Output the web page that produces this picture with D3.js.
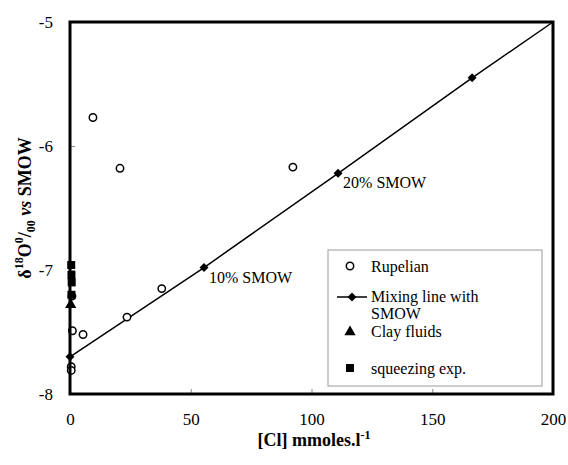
<!DOCTYPE html>
<html>
<head>
<meta charset="utf-8">
<script src="https://cdn.jsdelivr.net/npm/d3@7"></script>
<style>
  body { margin: 0; background: #fff; font-family: "Liberation Serif", "Times New Roman", serif; }
  .tick text { font-family: "Liberation Serif", serif; font-size: 17px; fill: #000; }
  .tick line { stroke: #888; }
</style>
</head>
<body>
<svg id="chart" width="568" height="465"></svg>
<script>
// values
var rupelian = [[9.5,-5.77],[20.7,-6.18],[92.3,-6.17],[38,-7.15],[23.6,-7.38],[5.4,-7.52],[1,-7.49],[0.8,-7.21],[0.5,-7.78],[0.5,-7.81]]
var mixing = [[0,-7.7],[55.5,-6.98],[111,-6.22],[166.5,-5.45],[200,-5]]
var clayFluids = [[0.3,-7.28]]
var squeezing = [[0.5,-6.96],[0.6,-7.04],[0.7,-7.1],[0.6,-7.2]]
var xTicks = [0,50,100,150,200]
var yTicks = [-8,-7,-6,-5]
var mixLabels = [[55.5,-6.98,"10% SMOW"],[111,-6.22,"20% SMOW"]]

var svg = d3.select("#chart")
var pLeft = 70, pRight = 553, pTop = 22, pBottom = 394

var x = d3.scaleLinear().domain([0,200]).range([pLeft,pRight])
var y = d3.scaleLinear().domain([-8,-5]).range([pBottom,pTop])

// axes, ticks pointing inward
var gx = svg.append("g").attr("transform","translate(0,"+pBottom+")")
  .call(d3.axisBottom(x).tickValues(xTicks).tickSize(-5).tickPadding(19).tickFormat(d3.format("d")))
gx.select(".domain").remove()
var gy = svg.append("g").attr("transform","translate("+pLeft+",0)")
  .call(d3.axisLeft(y).tickValues(yTicks).tickSize(-5).tickPadding(17).tickFormat(function(d){return String(d).replace("\u2212","-")}))
gy.select(".domain").remove()

// mixing line
svg.append("path").datum(mixing)
  .attr("fill","none").attr("stroke","#000").attr("stroke-width",1.5)
  .attr("d", d3.line().x(function(d){return x(d[0])}).y(function(d){return y(d[1])}))

var diamond = d3.symbol(d3.symbolSquare).size(40)
svg.selectAll(".mix").data(mixing.slice(0,4)).enter().append("path")
  .attr("transform", function(d){return "translate("+x(d[0])+","+y(d[1])+") rotate(45)"})
  .attr("d", diamond)
  .attr("fill","#000")

svg.selectAll(".mixlab").data(mixLabels).enter().append("text")
  .attr("x", function(d){return x(d[0])+5})
  .attr("y", function(d){return y(d[1])+15})
  .attr("font-size",16).text(function(d){return d[2]})

// rupelian circles
svg.selectAll(".rup").data(rupelian).enter().append("circle")
  .attr("cx", function(d){return x(d[0])}).attr("cy", function(d){return y(d[1])})
  .attr("r",3.7).attr("fill","#fff").attr("stroke","#000").attr("stroke-width",1.5)

svg.selectAll(".sq").data(squeezing).enter().append("rect")
  .attr("x", function(d){return x(d[0])-4}).attr("y", function(d){return y(d[1])-4})
  .attr("width",8).attr("height",8).attr("fill","#000")

svg.selectAll(".clay").data(clayFluids).enter().append("path")
  .attr("transform", function(d){return "translate("+x(d[0])+","+y(d[1])+")"})
  .attr("d", d3.symbol(d3.symbolTriangle).size(55))
  .attr("fill","#000")

// frame
svg.append("rect").attr("x",pLeft).attr("y",pTop)
  .attr("width",pRight-pLeft).attr("height",pBottom-pTop)
  .attr("fill","none").attr("stroke","#000").attr("stroke-width",3)

// legend
var lg = svg.append("g")
lg.append("rect").attr("x",328).attr("y",250).attr("width",214).attr("height",136)
  .attr("fill","#fff").attr("stroke","#999").attr("stroke-width",1)
lg.append("circle").attr("cx",350).attr("cy",266).attr("r",3.7)
  .attr("fill","#fff").attr("stroke","#000").attr("stroke-width",1.5)
lg.append("line").attr("x1",337).attr("x2",367).attr("y1",297).attr("y2",297)
  .attr("stroke","#000").attr("stroke-width",1.5)
lg.append("path").attr("transform","translate(352,297) rotate(45)")
  .attr("d", diamond).attr("fill","#000")
lg.append("path").attr("transform","translate(350,332)")
  .attr("d", d3.symbol(d3.symbolTriangle).size(55)).attr("fill","#000")
lg.append("rect").attr("x",346).attr("y",364).attr("width",8).attr("height",8).attr("fill","#000")
var legText = [["Rupelian",272],["Mixing line with",302],["SMOW",319],["Clay fluids",337],["squeezing exp.",374]]
lg.selectAll(".lt").data(legText).enter().append("text")
  .attr("x",371).attr("y",function(d){return d[1]})
  .attr("font-size",16).text(function(d){return d[0]})

// axis titles
var xt = svg.append("text").attr("x",314).attr("y",446).attr("text-anchor","middle")
  .attr("font-size",18).attr("font-weight","bold")
xt.append("tspan").text("[Cl] mmoles.l")
xt.append("tspan").attr("dy",-7).attr("font-size",12).text("-1")

var yt = svg.append("text").attr("transform","translate(31,208) rotate(-90)")
  .attr("text-anchor","middle").attr("font-size",18).attr("font-weight","bold")
yt.append("tspan").text("\u03b4")
yt.append("tspan").attr("dy",-8).attr("font-size",12).text("18")
yt.append("tspan").attr("dy",8).text("O")
yt.append("tspan").attr("dy",-8).attr("font-size",12).text("0")
yt.append("tspan").attr("dy",8).text("/")
yt.append("tspan").attr("dy",4).attr("font-size",12).text("00")
yt.append("tspan").attr("dy",-4).attr("font-style","italic").text(" vs")
yt.append("tspan").text(" SMOW")
</script>
</body>
</html>
